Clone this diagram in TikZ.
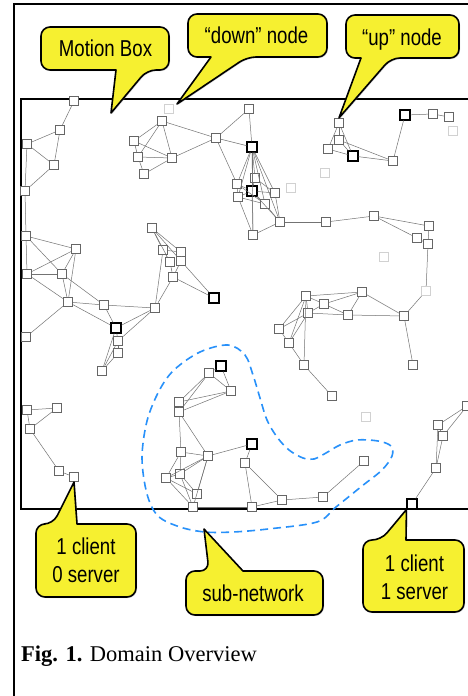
\documentclass[tikz,border=0pt]{standalone}
\usepackage{fontspec}
\setmainfont{Liberation Serif}
\newfontfamily\callfont[FakeStretch=0.81]{Liberation Sans}
\usetikzlibrary{math, shadows}
\definecolor{myyellow}{RGB}{246,240,48}
\definecolor{myblue}{RGB}{40,145,250}

\tikzset{
  peer/.style={draw=black!60, fill=white, minimum size=9.5pt, inner sep=0pt, line width=0.8pt},
  upnode/.style={peer, draw=black, line width=1.6pt},
  downnode/.style={peer, draw=black!18},
  link/.style={black!55, line width=0.5pt},
  callout/.style={fill=myyellow, draw=black, line width=1.6pt, line join=round,
    drop shadow={shadow xshift=1pt, shadow yshift=-1pt, opacity=0.35}},
  calltext/.style={font=\callfont\fontsize{23}{28}\selectfont, inner sep=0pt, align=center},
  subnet/.style={myblue, line width=1.6pt, dash pattern=on 8pt off 5pt},
}

% speech bubbles: body #1,#2 -- #3,#4, pointer base #5..#6, tip #7
\newcommand{\calldown}[7]{%
  \draw[callout] #7 -- (#5,#4) [rounded corners=9pt] -- (#1,#4) -- (#1,#2) -- (#3,#2) -- (#3,#4) -- (#6,#4) [sharp corners] -- cycle;}
\newcommand{\callup}[7]{%
  \draw[callout] #7 -- (#6,#2) [rounded corners=9pt] -- (#3,#2) -- (#3,#4) -- (#1,#4) -- (#1,#2) -- (#5,#2) [sharp corners] -- cycle;}

\begin{document}
\begin{tikzpicture}[x=1pt, y=-1pt]
\tikzmath{
\W=468;
\H=696;
}
\clip (0,0) rectangle (\W,\H);
\fill[white] (0,0) rectangle (\W,\H);

% page frame and motion box
\draw[line width=2pt] (13.5,\H+5) -- (13.5,4) -- (\W+5,4);
\draw[line width=1.5pt] (21,99) rectangle (\W+5,509);

% sub-network outline
\draw[subnet] plot[smooth cycle, tension=0.55] coordinates {
  (228,345) (245,355) (253,375) (260,398) (267,420) (277,437) (289,450) (303,458)
  (314,459) (326,453) (340,445) (357,440) (378,441) (391,446) (392,456) (382,470)
  (362,486) (336,507) (317,522) (268,529) (233,532) (205,532) (180,527) (158,516)
  (147,494) (142,458) (147,421) (159,391) (174,370) (200,352)};

% hosts
\foreach \n/\x/\y in {
  a1/74/101, a2/60/130, a3/27/144, a4/54/165, a5/25/191,
  b1/26/236, b2/76/249, b3/27/274, b4/62/274, b5/68/302, b6/26/337, b7/104/305,
  b9/118/341, b10/118/353, b11/102/371, b12/155/308,
  c1/152/228, c2/163/250, c3/181/252, c4/170/262, c5/181/261, c6/173/277,
  d1/162/121, d2/134/141, d3/138/157, d4/172/158, d5/144/174, d6/216/138, d7/249/109,
  d9/237/184, d10/255/178, d12/238/197, d13/275/193, d14/265/204, d15/253/235, d16/280/222,
  e1/326/222, e2/374/216, e3/429/226, e4/417/238, e5/428/244, e7/404/316, e8/413/365,
  f1/306/296, f2/324/304, f3/362/292, f4/308/313, f5/348/315, f6/279/329, f7/289/343,
  f8/304/365, f9/332/396,
  g1/339/123, g2/339/140, g3/328/149, g5/393/161, g7/433/114, g8/449/117,
  h1/27/410, h2/57/408, h3/30/429, h4/59/471, h5/74/477,
  s2/209/373, s3/231/391, s4/179/402, s5/179/412, s6/181/452, s7/208/456, s8/180/474,
  s9/166/478, s10/197/494, s11/193/507, s13/245/463, s14/282/500, s15/323/497,
  s16/364/461, s17/252/507,
  r1/467/406, r2/438/425, r3/443/436, r4/436/468}
  \node[peer] (\n) at (\x,\y) {};
\foreach \n/\x/\y in {b8/116/328, c7/214/298, d8/252/147, d11/252/191,
  g4/353/156, g6/405/115, s1/221/366, s12/252/444, r5/412/504}
  \node[upnode] (\n) at (\x,\y) {};
\foreach \n/\x/\y in {z1/169/109, z2/291/188, z3/325/173, z4/453/131,
  z5/384/257, z6/366/417, e6/426/291}
  \node[downnode] (\n) at (\x,\y) {};

% links
\foreach \a/\b in {
  a1/a2, a2/a3, a2/a4, a3/a4, a3/a5, a4/a5, a5/b1,
  b1/b2, b1/b3, b1/b4, b2/b3, b2/b4, b2/b5, b3/b4, b3/b5, b4/b5, b4/b7, b5/b6, b5/b7,
  b5/b8, b7/b8, b7/b12, b8/b9, b8/b12, b9/b12, b9/b10, b9/b11, b10/b11, b8/b11,
  c1/c2, c1/c3, c1/c4, c1/c5, c2/c4, c2/c3, c4/c6, c5/c6, c3/c5, c2/b12, c6/b12,
  c5/c7, c6/c7,
  d1/d2, d1/d3, d1/d4, d2/d3, d2/d4, d3/d4, d3/d5, d5/d4, d1/d6, d4/d6, d6/d7, d7/d8,
  d6/d8, d6/d9, d8/d9, d8/d10, d8/d11, d8/d12, d8/d13, d8/d14, d8/d15, d8/d16,
  d11/d9, d11/d10, d11/d12, d11/d13, d11/d14, d11/d15, d11/d16, d9/d12, d12/d15,
  d12/d14, d13/d16, d14/d16, d15/d16, d10/d13, d9/d14,
  d16/e1, e1/e2, e2/e3, e2/e4, e3/e5, e4/e5, e5/e6, e6/e7, e7/e8,
  f1/f2, f1/f3, f2/f3, f2/f5, f3/f5, f4/f5, f1/f4, f2/f4, f1/f6, f1/f7, f4/f6, f4/f7,
  f6/f7, f7/f8, f1/f8, f8/f9, f3/e7, f5/e7,
  g1/g2, g1/g3, g1/g4, g2/g3, g2/g4, g2/g5, g3/g4, g4/g5, g5/g6, g6/g7, g7/g8,
  h1/h2, h1/h3, h2/h3, h3/h4, h4/h5,
  s1/s2, s1/s3, s2/s3, s2/s4, s2/s5, s3/s4, s3/s5, s4/s5, s5/s6, s5/s7, s6/s7, s6/s8,
  s6/s9, s7/s8, s7/s9, s7/s10, s7/s11, s8/s10, s8/s11, s9/s10, s9/s11, s8/s9, s7/s12,
  s11/s17, s12/s13, s13/s14, s13/s17, s17/s14, s14/s15, s15/s16,
  r1/r2, r1/r3, r2/r3, r2/r4, r3/r4, r4/r5}
  \draw[link] (\a) -- (\b);

% callouts
\calldown{41}{27}{169}{70}{116}{147}{(111,113)}
\node[calltext, anchor=base] (motion) at (105.5,56.7) {Motion Box};
\calldown{188}{14}{327}{57}{211}{247}{(177,104)}
\node[calltext, anchor=base] (down) at (256.5,43.5) {“down” node};
\calldown{346}{15}{459}{58}{361}{391}{(g1.north)}
\node[calltext, anchor=base] (up) at (402,45) {“up” node};
\callup{36}{524}{136}{597}{53}{77}{(h5.south)}
\node[calltext] (client0) at (86,560.5) {1 client\\0 server};
\callup{186}{571}{323}{615}{209}{243}{(204,529)}
\node[calltext, anchor=base] (subnet) at (253,601) {sub-network};
\callup{363}{540}{464}{612}{381}{406}{(r5.south west)}
\node[calltext] (client1) at (414.5,577) {1 client\\1 server};

\node[anchor=base west, inner sep=0pt, font=\fontsize{22.5}{27}\selectfont] (caption)
  at (21,661) {\textbf{Fig. 1.} Domain Overview};
\end{tikzpicture}
\end{document}
